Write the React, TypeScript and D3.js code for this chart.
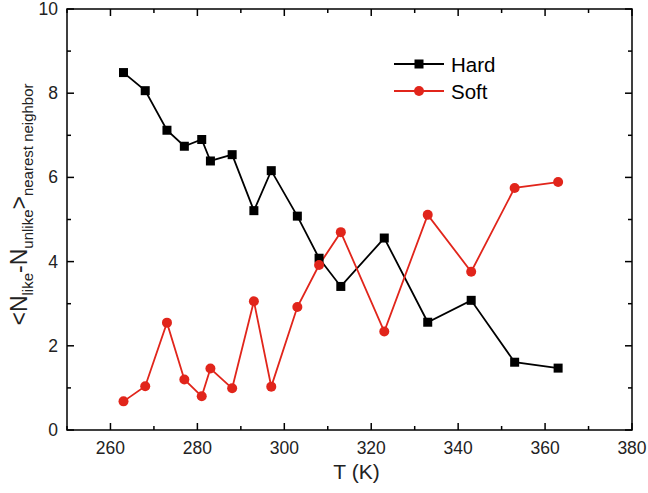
import React from "react";
import * as d3 from "d3";

const temps = [263, 268, 273, 277, 281, 283, 288, 293, 297, 303, 308, 313, 323, 333, 343, 353, 363];
const hardValues = [8.49, 8.06, 7.12, 6.74, 6.9, 6.39, 6.54, 5.21, 6.16, 5.08, 4.08, 3.41, 4.56, 2.56, 3.08, 1.61, 1.47];
const softValues = [0.68, 1.04, 2.55, 1.2, 0.8, 1.46, 0.99, 3.06, 1.03, 2.92, 3.92, 4.7, 2.34, 5.11, 3.76, 5.75, 5.89];
const xTicks = [260, 280, 300, 320, 340, 360, 380];
const xMinor = [250, 270, 290, 310, 330, 350, 370];
const yTicks = [0, 2, 4, 6, 8, 10];
const yMinor = [1, 3, 5, 7, 9];
const seriesNames = ["Hard", "Soft"];

const W = 648, H = 493;
const L = 67, R = 632, T = 9, B = 430;
const RED = "#e1251b";
const FONT = "Liberation Sans, Arial, sans-serif";

export default function App() {
  const x = d3.scaleLinear().domain([250, 380]).range([L, R]);
  const y = d3.scaleLinear().domain([0, 10]).range([B, T]);
  const line = d3.line<number>().x((_, i) => x(temps[i])).y((d) => y(d));
  const major = 7, minor = 4;
  return (
    <svg width={W} height={H} style={{ position: "absolute", left: 0, top: 0, background: "#fff" }}>
      <rect x={0} y={0} width={W} height={H} fill="#fff" />
      <g stroke="#000" strokeWidth={1.5}>
        {xTicks.map((t) => (
          <g key={"xt" + t}>
            <line x1={x(t)} x2={x(t)} y1={B} y2={B - major} />
            <line x1={x(t)} x2={x(t)} y1={T} y2={T + major} />
          </g>
        ))}
        {xMinor.map((t) => (
          <g key={"xm" + t}>
            <line x1={x(t)} x2={x(t)} y1={B} y2={B - minor} />
            <line x1={x(t)} x2={x(t)} y1={T} y2={T + minor} />
          </g>
        ))}
        {yTicks.map((t) => (
          <g key={"yt" + t}>
            <line x1={L} x2={L + major} y1={y(t)} y2={y(t)} />
            <line x1={R} x2={R - major} y1={y(t)} y2={y(t)} />
          </g>
        ))}
        {yMinor.map((t) => (
          <g key={"ym" + t}>
            <line x1={L} x2={L + minor} y1={y(t)} y2={y(t)} />
            <line x1={R} x2={R - minor} y1={y(t)} y2={y(t)} />
          </g>
        ))}
        <rect x={L} y={T} width={R - L} height={B - T} fill="none" />
      </g>
      <g fontFamily={FONT} fontSize={17.5} fill="#222">
        {xTicks.map((t) => (
          <text key={"xl" + t} x={x(t)} y={454} textAnchor="middle">{t}</text>
        ))}
        {yTicks.map((t) => (
          <text key={"yl" + t} x={L - 9} y={y(t) + 6} textAnchor="end">{t}</text>
        ))}
      </g>
      <text x={(L + R) / 2 + 7} y={479} textAnchor="middle" fontFamily={FONT} fontSize={21} fill="#222">T (K)</text>
      <text transform={`translate(27, ${(T + B) / 2 - 15}) rotate(-90)`} textAnchor="middle" fontFamily={FONT} fontSize={23} fill="#222">
        {"<N"}
        <tspan fontSize={15} dy={6}>like</tspan>
        <tspan dy={-6}>-N</tspan>
        <tspan fontSize={15} dy={6}>unlike</tspan>
        <tspan dy={-6}>{">"}</tspan>
        <tspan fontSize={15} dy={6}>nearest neighbor</tspan>
      </text>
      <path d={line(hardValues) || ""} fill="none" stroke="#000" strokeWidth={1.8} />
      <path d={line(softValues) || ""} fill="none" stroke={RED} strokeWidth={1.8} />
      {hardValues.map((v, i) => (
        <rect key={"h" + i} x={x(temps[i]) - 4.5} y={y(v) - 4.5} width={9} height={9} fill="#000" />
      ))}
      {softValues.map((v, i) => (
        <circle key={"s" + i} cx={x(temps[i])} cy={y(v)} r={5} fill={RED} />
      ))}
      <g fontFamily={FONT} fontSize={20.5} fill="#000">
        <line x1={394} x2={444} y1={64} y2={64} stroke="#000" strokeWidth={1.8} />
        <rect x={419 - 4.5} y={64 - 4.5} width={9} height={9} fill="#000" />
        <text x={451} y={72}>{seriesNames[0]}</text>
        <line x1={394} x2={444} y1={91} y2={91} stroke={RED} strokeWidth={1.8} />
        <circle cx={419} cy={91} r={5} fill={RED} />
        <text x={451} y={99}>{seriesNames[1]}</text>
      </g>
    </svg>
  );
}
